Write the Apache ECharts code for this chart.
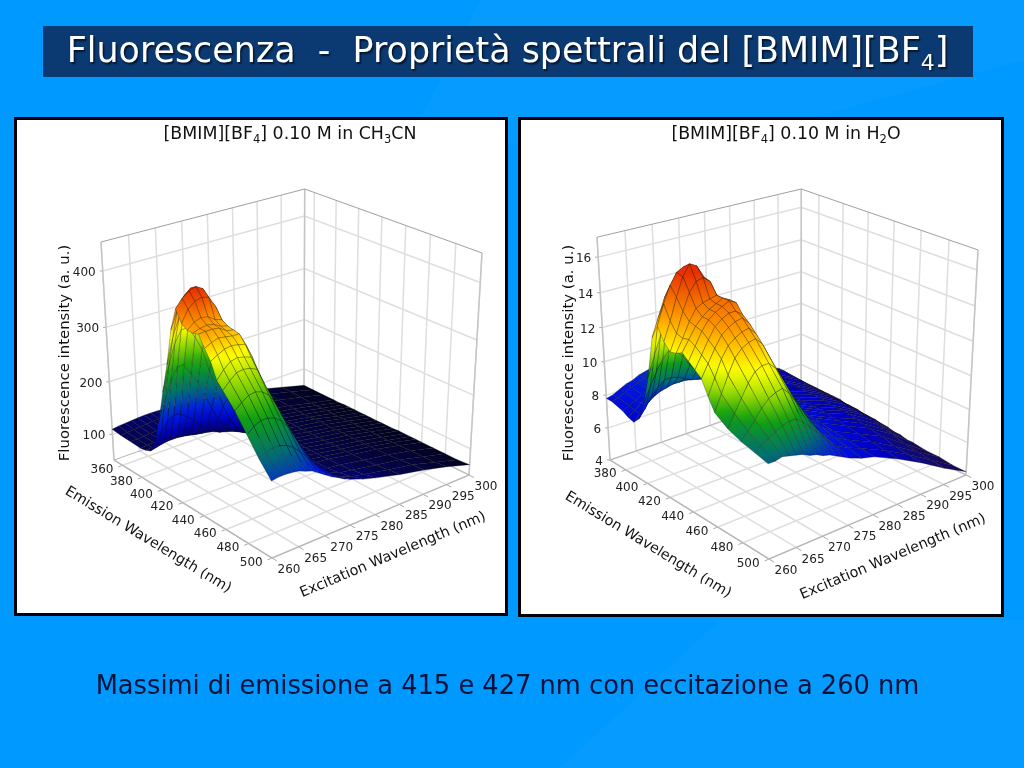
<!DOCTYPE html>
<html><head><meta charset="utf-8">
<style>html,body{margin:0;padding:0;background:#0099ff}#c{width:1024px;height:768px}</style>
<script src="https://cdn.jsdelivr.net/npm/echarts@6/dist/echarts.min.js"></script>
</head><body><div id="c"></div>
<script>
// ---------- data ----------
const exValues = [260,261.25,262.5,263.75,265,266.25,267.5,268.75,270,271.25,272.5,273.75,275,277.5,280,285,290,295,300];
const exTicks = [260,265,270,275,280,285,290,295,300];

const leftEmValues = [351,360,370,380,385,390,395,400,405,410,415,420,425,430,435,440,445,450,455,460,470,480,490,500];
const leftEmTicks = [360,380,400,420,440,460,480,500];
const leftIntensityTicks = [100,200,300,400];
const leftIntensity = [
[110,112,113,114,115,116,116,116,115,114,113,111,110,108,105,98,90,78,66],
[108,110,111,112,113,114,114,114,113,112,111,110,108,106,104,97,89,78,66],
[107,108,109,110,111,112,112,112,111,110,109,108,107,105,102,96,88,77,66],
[106,107,108,109,110,110,110,110,109,108,108,107,106,104,101,95,87,76,66],
[108,109,110,111,111,111,110,110,109,108,107,106,105,103,100,94,86,76,66],
[112,115,118,120,120,118,116,113,111,109,107,106,105,103,100,94,86,76,67],
[135,150,165,172,170,160,150,135,125,116,110,107,105,103,100,94,86,76,67],
[180,215,245,265,265,245,225,198,170,145,125,113,108,104,101,94,86,76,67],
[237,280,315,335,335,315,290,250,212,175,145,125,112,106,102,95,87,76,67],
[290,335,365,385,380,355,320,280,235,195,158,132,116,107,103,95,87,77,67],
[355,385,405,415,408,380,345,300,250,205,165,138,118,108,103,95,87,77,67],
[395,409,418,422,415,392,358,310,258,212,170,140,120,109,104,95,87,77,67],
[375,395,405,408,405,385,355,312,262,215,174,143,122,110,104,96,88,77,67],
[368,378,382,380,372,368,350,312,265,218,177,146,124,111,105,96,88,77,67],
[368,372,374,372,365,362,345,308,262,218,178,146,124,111,105,96,88,78,67],
[371,372,372,370,362,360,340,300,255,215,178,146,124,111,105,96,88,78,68],
[352,358,362,360,358,358,335,292,247,210,176,146,123,111,105,96,88,78,68],
[335,342,348,350,348,345,320,280,238,205,180,148,118,110,105,96,88,78,68],
[308,322,332,335,332,328,301,265,228,197,170,142,116,109,105,97,89,79,68],
[296,308,318,320,318,312,285,252,218,190,163,138,116,109,106,97,89,79,68],
[272,282,290,292,288,278,258,232,203,177,155,133,118,110,107,98,90,80,68],
[242,252,258,258,254,245,230,208,185,165,150,132,122,113,109,100,92,80,68],
[212,218,222,222,218,210,198,185,170,157,147,135,127,118,113,103,94,81,68],
[186,188,188,187,185,180,176,168,160,152,146,139,134,125,118,106,96,84,70]
];

const rightEmValues = [365,370,380,385,390,395,400,405,410,415,420,425,430,435,440,445,450,455,460,470,480,490,500];
const rightEmTicks = [380,400,420,440,460,480,500];
const rightIntensityTicks = [4,6,8,10,12,14,16];
const rightIntensity = [
[7.8,7.9,8.1,8.3,8.4,8.6,8.7,8.8,8.9,8.9,8.8,8.7,8.6,8.3,8.0,7.5,7.0,6.2,4.9],
[7.8,7.9,8.1,8.3,8.4,8.6,8.7,8.8,8.9,8.9,8.8,8.7,8.6,8.3,8.0,7.5,7.0,6.2,4.9],
[7.6,7.8,8.0,8.2,8.4,8.5,8.7,8.8,8.8,8.8,8.8,8.7,8.5,8.2,7.9,7.4,6.9,6.1,4.9],
[7.4,7.7,8.0,8.2,8.4,8.5,8.7,8.8,8.8,8.8,8.7,8.6,8.5,8.2,7.9,7.4,6.9,6.1,4.9],
[7.3,7.7,8.1,8.4,8.6,8.7,8.8,8.8,8.8,8.8,8.7,8.6,8.4,8.1,7.8,7.3,6.8,6.0,4.9],
[7.7,8.2,8.8,9.2,9.5,9.5,9.4,9.2,9.0,8.9,8.8,8.6,8.4,8.1,7.8,7.3,6.8,6.0,4.9],
[8.8,9.6,10.4,11.0,11.4,11.2,10.8,10.2,9.7,9.3,9.0,8.7,8.5,8.1,7.8,7.3,6.8,6.0,4.9],
[10.5,11.6,12.6,13.3,13.7,13.5,12.9,12.0,11.0,10.2,9.5,9.0,8.7,8.2,7.9,7.3,6.8,6.0,4.8],
[12.9,13.9,14.9,15.5,15.6,15.2,14.4,13.3,12.0,11.0,10.1,9.4,8.9,8.3,7.9,7.3,6.8,6.0,4.8],
[13.7,14.8,15.7,16.3,16.5,16.2,15.5,14.2,12.8,11.6,10.6,9.7,9.1,8.4,7.9,7.3,6.8,6.0,4.8],
[13.0,14.0,15.2,16.2,16.8,16.6,15.9,14.8,13.4,12.2,11.0,10.0,9.3,8.5,8.0,7.3,6.8,6.0,4.7],
[12.6,13.5,14.6,15.5,16.0,16.1,15.8,14.9,13.6,12.4,11.2,10.2,9.4,8.5,8.0,7.3,6.8,6.0,4.7],
[12.7,13.4,14.2,14.8,15.0,15.1,15.2,14.9,13.7,12.5,11.3,10.3,9.4,8.5,8.0,7.3,6.7,5.9,4.7],
[12.9,13.5,14.1,14.5,14.8,15.0,15.2,15.0,13.8,12.6,11.4,10.3,9.5,8.5,8.0,7.3,6.7,5.9,4.6],
[12.6,13.3,14.0,14.5,14.8,15.0,15.2,15.0,13.9,12.7,11.5,10.4,9.5,8.5,8.0,7.3,6.7,5.9,4.6],
[12.3,13.0,13.7,14.3,14.6,14.8,14.8,14.5,13.7,12.6,11.4,10.4,9.5,8.5,8.0,7.3,6.7,5.8,4.5],
[12.0,12.7,13.4,14.0,14.3,14.5,14.6,14.2,13.4,12.4,11.3,10.3,9.4,8.4,7.9,7.2,6.6,5.7,4.5],
[11.2,12.1,13.0,13.6,13.9,14.1,14.2,13.8,13.0,12.1,11.1,10.1,9.3,8.4,7.9,7.2,6.5,5.6,4.4],
[10.5,11.4,12.3,13.1,13.5,13.7,13.8,13.4,12.6,11.7,10.8,9.9,9.2,8.3,7.8,7.1,6.4,5.5,4.4],
[10.0,10.7,11.4,12.1,12.6,12.8,12.8,12.4,11.7,10.9,10.2,9.4,8.8,8.2,7.7,7.0,6.3,5.3,4.3],
[9.7,10.1,10.6,11.1,11.5,11.7,11.8,11.4,10.8,10.2,9.6,9.0,8.5,8.0,7.6,6.9,6.1,5.2,4.3],
[9.5,9.7,10.0,10.2,10.4,10.5,10.5,10.2,9.8,9.4,9.0,8.6,8.2,7.8,7.5,6.8,6.0,5.1,4.2],
[9.3,9.3,9.4,9.3,9.2,9.1,8.9,8.8,8.6,8.5,8.3,8.1,7.9,7.6,7.4,6.7,5.9,5.0,4.2]
];

const leftColorLevels = [60,105,135,170,215,262,312,338,372,420];
const rightColorLevels = [4,5.5,7,8.4,9.5,10.6,11.7,12.6,14.2,16.4];
const rampColors = ['#020218','#04044a','#0000a8','#0018e8','#007070','#10a010','#a8e000','#ffff00','#ff9c00','#e63000'];
const rightRampColors = ['#1c0850','#100a78','#0000c8','#0018e0','#007070','#10a010','#a8e000','#ffff00','#ff9c00','#e63000'];

// ---------- view settings ----------
const FONT = '"DejaVu Sans"';
const leftView = {
  em:[351,500], ex:[260,300], z:[50,450],
  floor:[[114,460],[272,558],[469,475],[304,393]],
  top:[[101,240],[304,189],[482,251]],
  emTitle:[148,540], exTitle:[393,555], zTitle:[65,353],
  levels:leftColorLevels, colors:rampColors, mesh:'rgba(10,10,10,0.5)', meshWidth:0.55
};
const rightView = {
  em:[365,500], ex:[260,300], z:[4,17.1],
  floor:[[610,460],[769,559],[966,475],[801,394]],
  top:[[597,240],[801,189],[978,250]],
  emTitle:[648,545], exTitle:[893,557], zTitle:[569,353],
  levels:rightColorLevels, colors:rightRampColors, mesh:'rgba(10,10,10,0.45)', meshWidth:0.65
};

function makeProjection(v){
  const [p0,p1,p2,p3]=v.floor;
  const sx=p0[0]-p1[0]+p2[0]-p3[0], sy=p0[1]-p1[1]+p2[1]-p3[1];
  const dx1=p1[0]-p2[0], dx2=p3[0]-p2[0], dy1=p1[1]-p2[1], dy2=p3[1]-p2[1];
  const det=dx1*dy2-dx2*dy1;
  const g=(sx*dy2-dx2*sy)/det, h=(dx1*sy-sx*dy1)/det;
  const a=p1[0]-p0[0]+g*p1[0], b=p3[0]-p0[0]+h*p3[0], c=p0[0];
  const d=p1[1]-p0[1]+g*p1[1], e=p3[1]-p0[1]+h*p3[1], f=p0[1];
  const base=(u,w)=>[a*u+b*w+c, d*u+e*w+f, g*u+h*w+1];
  const bl=base(0,0), bb=base(0,1), br=base(1,1);
  const [tl,tb,tr]=v.top;
  const A=tl[0]*bl[2]-bl[0], B=tr[0]*br[2]-br[0];
  const pz=(A-B)/(tr[0]-tl[0]);
  const px=A+tl[0]*pz;
  const py=tb[1]*(bb[2]+pz)-bb[1];
  return function(em,ex,z){
    const u=(em-v.em[0])/(v.em[1]-v.em[0]), w=(ex-v.ex[0])/(v.ex[1]-v.ex[0]), t=(z-v.z[0])/(v.z[1]-v.z[0]);
    const n=base(u,w);
    return [(n[0]+t*px)/(n[2]+t*pz),(n[1]+t*py)/(n[2]+t*pz)];
  };
}
function hexRgb(h){return [parseInt(h.slice(1,3),16),parseInt(h.slice(3,5),16),parseInt(h.slice(5,7),16)];}
function ramp(v,val){
  const L=v.levels,C=v.colors;
  if(val<=L[0])return C[0];
  for(let i=1;i<L.length;i++){
    if(val<=L[i]){
      const t=(val-L[i-1])/(L[i]-L[i-1]),p=hexRgb(C[i-1]),q=hexRgb(C[i]);
      return 'rgb('+p.map((x,k)=>Math.round(x+(q[k]-x)*t)).join(',')+')';
    }
  }
  return C[C.length-1];
}
const gridLine={stroke:'#dedede',lineWidth:1.5,fill:null};

function panelSeries(v,emValues,emTicks,zTicks,table){
  const P=makeProjection(v);
  const base={type:'custom',coordinateSystem:'cartesian2d',silent:true,animation:false,clip:false,xAxisIndex:0,yAxisIndex:0};
  const [e0,e1]=v.em,[x0,x1]=v.ex,[z0,z1]=v.z;
  const poly=(api,pts,style)=>({type:'polyline',shape:{points:pts.map(p=>api.coord(p))},style:Object.assign({fill:null},style)});
  const label=(api,p,dx,dy,text,align)=>{const c=api.coord(p);return {type:'text',style:{x:c[0]+dx,y:c[1]+dy,text:String(text),align:align,verticalAlign:'middle',font:'12px '+FONT,fill:'#222'}};};
  const out=[];
  out.push(Object.assign({},base,{z:2,data:emTicks.map(t=>[t]),renderItem(p,api){
    const t=api.value(0),a=P(t,x0,z0),b=P(t,x1,z0),top=P(t,x1,z1),k=P(t,x0-0.8,z0);
    return {type:'group',children:[poly(api,[a,b,top],gridLine),poly(api,[a,k],{stroke:'#aaa',lineWidth:1}),label(api,k,-5,3,t,'right')]};
  }}));
  out.push(Object.assign({},base,{z:2,data:exTicks.map(t=>[t]),renderItem(p,api){
    const t=api.value(0),a=P(e1,t,z0),b=P(e0,t,z0),top=P(e0,t,z1),k=P(e1+4,t,z0);
    return {type:'group',children:[poly(api,[a,b,top],gridLine),poly(api,[a,k],{stroke:'#aaa',lineWidth:1}),label(api,a,17,12,t,'center')]};
  }}));
  out.push(Object.assign({},base,{z:2,data:zTicks.map(t=>[t]),renderItem(p,api){
    const t=api.value(0),a=P(e0,x0,t),b=P(e0,x1,t),c=P(e1,x1,t);
    return {type:'group',children:[poly(api,[a,b,c],gridLine),poly(api,[a,[a[0]-3,a[1]]],{stroke:'#aaa',lineWidth:1}),label(api,a,-7,2,t,'right')]};
  }}));
  out.push(Object.assign({},base,{z:2,data:[[e0,e1]],renderItem(p,api){
    const thin={stroke:'#a0a0a0',lineWidth:1}, soft={stroke:'#c4c4c4',lineWidth:1.4};
    return {type:'group',children:[
      poly(api,[P(e0,x0,z0),P(e0,x0,z1)],soft),
      poly(api,[P(e0,x1,z0),P(e0,x1,z1)],soft),
      poly(api,[P(e1,x1,z0),P(e1,x1,z1)],soft),
      poly(api,[P(e0,x0,z1),P(e0,x1,z1),P(e1,x1,z1)],thin),
      poly(api,[P(e0,x0,z0),P(e1,x0,z0),P(e1,x1,z0)],{stroke:'#b4b4b4',lineWidth:1.2}),
      poly(api,[P(e0,x0,z0),P(e0,x1,z0),P(e1,x1,z0)],{stroke:'#b4b4b4',lineWidth:1})
    ]};
  }}));
  const cells=[];
  for(let i=0;i<emValues.length-1;i++){
    for(let j=exValues.length-2;j>=0;j--){
      cells.push([emValues[i],exValues[j],emValues[i+1],exValues[j+1],table[i][j],table[i+1][j],table[i+1][j+1],table[i][j+1]]);
    }
  }
  out.push(Object.assign({},base,{z:3,data:cells,renderItem(p,api){
    const a=api.value(0),b=api.value(1),c=api.value(2),d=api.value(3);
    const q=[api.value(4),api.value(5),api.value(6),api.value(7)];
    const pts=[P(a,b,q[0]),P(c,b,q[1]),P(c,d,q[2]),P(a,d,q[3])].map(x=>api.coord(x));
    let lo=0,hi=0;
    q.forEach((val,i)=>{if(val<q[lo])lo=i;if(val>q[hi])hi=i;});
    const stops=[0,0.25,0.5,0.75,1].map(o=>({offset:o,color:ramp(v,q[lo]+(q[hi]-q[lo])*o)}));
    const fill=(pts[lo][0]===pts[hi][0]&&pts[lo][1]===pts[hi][1])?stops[0].color:
      {type:'linear',global:true,x:pts[lo][0],y:pts[lo][1],x2:pts[hi][0],y2:pts[hi][1],colorStops:stops};
    return {type:'polygon',shape:{points:pts},style:{fill:fill,stroke:v.mesh,lineWidth:v.meshWidth}};
  }}));
  return out;
}

const tlabel=(x,y,text,rot,size)=>({type:'text',x:x,y:y,rotation:rot,style:{x:0,y:0,text:text,align:'center',verticalAlign:'middle',font:size+'px '+FONT,fill:'#111'}});
function titlesFor(v){
  return [
    tlabel(v.emTitle[0],v.emTitle[1],'Emission Wavelength (nm)',-31.3*Math.PI/180,14.3),
    tlabel(v.exTitle[0],v.exTitle[1],'Excitation Wavelength (nm)',22.8*Math.PI/180,14.4),
    tlabel(v.zTitle[0],v.zTitle[1],'Fluorescence intensity (a. u.)',Math.PI/2,14.9)
  ];
}
const capRich={a:{fontFamily:'DejaVu Sans',fontSize:17.4,fill:'#111',lineHeight:24},s:{fontFamily:'DejaVu Sans',fontSize:11.5,fill:'#111',lineHeight:24,verticalAlign:'bottom'}};
const shadow={textShadowColor:'#02132c',textShadowBlur:2,textShadowOffsetX:1.5,textShadowOffsetY:1.5};

const option={
  backgroundColor:'#0099ff',
  animation:false,
  grid:{left:0,right:0,top:0,bottom:0},
  xAxis:{type:'value',min:0,max:1024,show:false},
  yAxis:{type:'value',min:0,max:768,inverse:true,show:false},
  graphic:{elements:[
    {type:'polygon',z:0,shape:{points:[[480,0],[1024,0],[1024,60],[620,170],[420,120]]},style:{fill:'rgba(255,255,255,0.025)'}},
    {type:'polygon',z:0,shape:{points:[[720,620],[1024,620],[1024,768],[560,768]]},style:{fill:'rgba(255,255,255,0.025)'}},
    {type:'rect',z:1,shape:{x:43,y:26,width:930,height:51},style:{fill:'#0b3a72'}},
    {type:'rect',z:1,shape:{x:15.5,y:118.5,width:491,height:496},style:{fill:'#fff',stroke:'#02020f',lineWidth:3}},
    {type:'rect',z:1,shape:{x:519.5,y:118.5,width:483,height:497},style:{fill:'#fff',stroke:'#02020f',lineWidth:3}},
    {type:'text',z:5,x:507.5,y:53,style:{text:'{a|Fluorescenza  -  Proprietà spettrali del [BMIM][BF}{s|4}{a|]}',align:'center',verticalAlign:'middle',
      rich:{a:Object.assign({fontFamily:'DejaVu Sans',fontSize:34.9,fill:'#fff',lineHeight:44},shadow),
            s:Object.assign({fontFamily:'DejaVu Sans',fontSize:22,fill:'#fff',lineHeight:44,verticalAlign:'bottom'},shadow)}}},
    {type:'text',z:5,x:290,y:134,style:{text:'{a|[BMIM][BF}{s|4}{a|] 0.10 M in CH}{s|3}{a|CN}',align:'center',verticalAlign:'middle',rich:capRich}},
    {type:'text',z:5,x:786,y:134,style:{text:'{a|[BMIM][BF}{s|4}{a|] 0.10 M in H}{s|2}{a|O}',align:'center',verticalAlign:'middle',rich:capRich}},
    {type:'text',z:5,x:507.5,y:687,style:{text:'Massimi di emissione a 415 e 427 nm con eccitazione a 260 nm',align:'center',verticalAlign:'middle',font:'25.7px '+FONT,fill:'#04123a'}}
  ].concat(titlesFor(leftView),titlesFor(rightView)).map(e=>Object.assign({z:e.z===undefined?5:e.z},e))},
  series:[].concat(
    panelSeries(leftView,leftEmValues,leftEmTicks,leftIntensityTicks,leftIntensity),
    panelSeries(rightView,rightEmValues,rightEmTicks,rightIntensityTicks,rightIntensity)
  )
};
const chart=echarts.init(document.getElementById('c'),null,{renderer:'canvas',width:1024,height:768});
chart.setOption(option);
</script></body></html>
